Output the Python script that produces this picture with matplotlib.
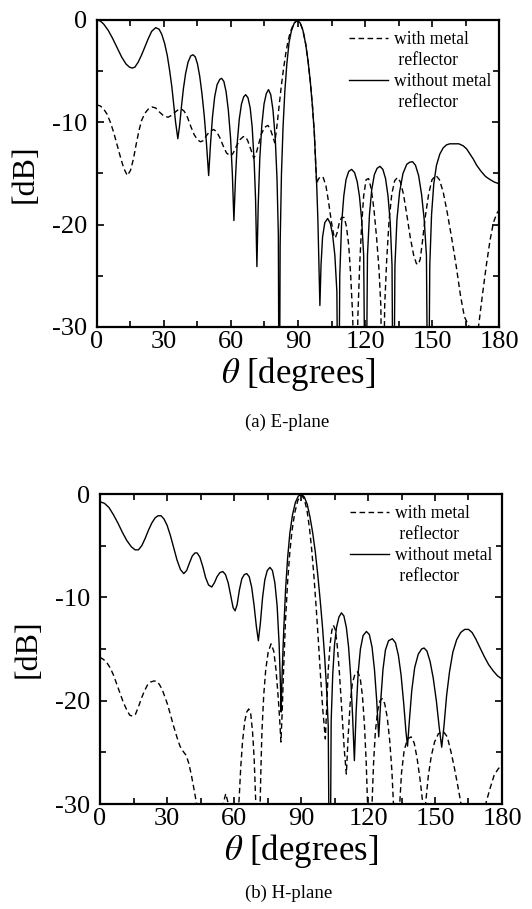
import matplotlib
matplotlib.use('Agg')
import matplotlib.pyplot as plt
from matplotlib.lines import Line2D

plt.rcParams['font.family'] = ['Liberation Serif', 'DejaVu Serif']
plt.rcParams['mathtext.fontset'] = 'stix'
plt.rcParams['axes.unicode_minus'] = False

# values; nulls that drop below the -30 dB floor are given as -45

# (a) E-plane, without metal reflector (solid)
e_theta_wo = [0, 1.5, 3, 5, 7, 9, 11, 13, 14.5, 15.8, 17, 18.5, 20, 21.5, 23, 24.5, 26.3, 27.8, 29, 30.3, 31.5,
              32.5, 33.5, 34.4, 35.2, 36.2, 37, 37.8, 38.7, 39.7, 40.8, 42, 43, 44, 45, 46, 47, 48, 49, 50,
              50.8, 51.7, 52.7, 53.8, 55, 55.8, 56.8, 57.8, 58.8, 59.8, 60.6, 61.3, 62, 62.8, 63.7, 64.7, 65.7,
              66.6, 67.6, 68.6, 69.5, 70.4, 71, 71.6, 72.2, 72.9, 73.8, 74.8, 75.8, 76.8, 77.8, 78.8, 79.8,
              80.6, 81.2, 81.6, 82.0, 82.6, 83.3, 84.1, 85, 86, 87, 88.3, 89.7, 91, 92.2, 93.4, 94.5, 95.5,
              96.5, 97.3, 98, 98.4, 98.9, 99.4, 99.8, 100.3, 101, 102, 103.3, 104.5, 105.5, 106.5, 107.4, 108.1,
              108.7, 109.5, 110.5, 111.5, 112.7, 114, 115.3, 116.5, 117.5, 118.5, 119.4, 120.3, 121.1, 122, 123,
              124.2, 125.4, 126.7, 128, 129.2, 130.3, 131.3, 132.1, 132.7, 133.4, 134.3, 135.5, 137, 138.7, 140,
              141.3, 142.6, 144, 145.3, 146.5, 147.5, 148.3, 149, 149.8, 150.8, 152, 153.5, 155, 156.5, 158, 160,
              162, 164, 165.5, 167, 168.5, 170, 172, 174, 176, 178, 180]
e_db_wo = [0, -0.1, -0.4, -1.0, -1.8, -2.7, -3.6, -4.3, -4.6, -4.7, -4.6, -4.1, -3.4, -2.6, -1.8, -1.1, -0.75,
           -0.9, -1.4, -2.3, -3.5, -4.9, -6.5, -8.3, -10.0, -11.6, -10.3, -8.5, -6.7, -5.2, -4.1, -3.5, -3.4,
           -3.6, -4.3, -5.5, -7.2, -9.3, -12, -15.2, -12.2, -9.5, -7.5, -6.3, -5.8, -5.7, -6.0, -7.0, -8.8,
           -11.5, -15, -19.6, -15.5, -12, -9.7, -8.2, -7.5, -7.3, -7.6, -8.6, -10.5, -14, -17.5, -24.1, -18,
           -13.5, -10.3, -8.2, -7.2, -6.8, -7.3, -8.8, -11.5, -15.5, -21, -45, -22, -15, -10.5, -7, -4.3, -2.2,
           -1.1, -0.3, 0, -0.3, -1.0, -2.3, -4.0, -6.0, -8.5, -11, -14.5, -16.3, -19.5, -24, -27.9, -24, -21.2,
           -19.8, -19.4, -19.9, -21, -23, -26.5, -45, -25, -20, -17.2, -15.6, -14.8, -14.6, -14.9, -15.8, -17.2,
           -19.5, -23, -45, -23, -19, -16.6, -15.1, -14.5, -14.3, -14.6, -15.5, -17.2, -19.8, -24, -45, -24,
           -19.5, -16.8, -15, -14.1, -13.9, -13.85, -14.2, -15.2, -17.0, -19.5, -23, -45, -24, -19, -16, -14.2,
           -13.1, -12.5, -12.2, -12.1, -12.1, -12.1, -12.3, -12.6, -13.1, -13.6, -14.2, -14.8, -15.3, -15.6,
           -15.85, -16.0]

# (a) E-plane, with metal reflector (dashed)
e_theta_w = [0, 1.5, 3, 4.5, 6, 7.5, 9, 10.5, 12, 13.6, 15, 16.3, 17.5, 18.8, 20, 21.5, 23, 24.7, 26.3, 28, 30,
             31.9, 33.5, 35, 36.5, 37.8, 39, 40.5, 42, 43.5, 45, 46.3, 47.5, 49, 50.5, 52.2, 53.5, 55, 56.5, 58,
             59.8, 61, 62.5, 64, 65.5, 66.5, 67.5, 68.8, 70.2, 71.2, 72.3, 73.5, 75, 76.5, 77.5, 78.6, 79.6,
             80.5, 81.5, 82.5, 83.5, 84.5, 85.5, 86.5, 88, 89.7, 91, 92.2, 93.4, 94.5, 95.5, 96.5, 97.3, 98,
             98.4, 99, 100, 101.3, 102.5, 103.7, 105, 106, 106.7, 107.5, 108.5, 109.5, 110.7, 111.7, 112.7,
             113.6, 114.5, 115.7, 116.8, 117.6, 118.5, 119.4, 120.5, 121.6, 122.8, 124, 125.2, 126.3, 127.1,
             127.9, 128.8, 129.7, 130.8, 132, 133.3, 134.5, 135.8, 137.2, 138.7, 140.3, 141.8, 143, 143.8,
             144.7, 145.8, 147, 148.5, 150, 151.8, 153.3, 155, 156.8, 158.8, 160.8, 162.8, 164.5, 166.7, 168.8,
             170.8, 172.5, 174.3, 176, 177.5, 179, 180]
e_db_w = [-8.3, -8.4, -8.7, -9.2, -10.0, -11.0, -12.2, -13.4, -14.5, -15.2, -14.7, -13.6, -12.2, -10.8, -9.8,
          -9.1, -8.7, -8.5, -8.6, -9.0, -9.4, -9.5, -9.3, -9.0, -8.75, -8.7, -8.9, -9.5, -10.4, -11.2, -11.7,
          -11.9, -11.8, -11.3, -10.9, -10.7, -10.9, -11.5, -12.3, -13.0, -13.3, -13.0, -12.3, -11.7, -11.4,
          -11.4, -11.8, -12.6, -13.5, -13.1, -12.2, -11.2, -10.5, -10.3, -10.6, -11.3, -12.0, -10.5, -8.5,
          -6.5, -4.8, -3.3, -2.1, -1.2, -0.4, 0, -0.3, -1.0, -2.3, -4.0, -6.0, -8.5, -11, -14.5, -16.0, -15.6,
          -15.3, -15.4, -16.2, -17.8, -19.8, -21, -21.3, -20.8, -19.8, -19.3, -19.3, -20.2, -22, -25, -29, -45,
          -29, -24, -20, -17.2, -15.6, -15.5, -16.5, -18.5, -21.3, -24.5, -28, -45, -28, -23.5, -19.5, -17,
          -15.7, -15.4, -15.8, -17, -19, -21.3, -23, -23.8, -23.9, -23.4, -21.5, -19.2, -17, -15.6, -15.2,
          -15.6, -16.8, -18.8, -21.3, -24, -27, -29, -30, -45, -30, -27, -24, -21.5, -19.8, -18.9, -18.6]

# (b) H-plane, without metal reflector (solid)
h_theta_wo = [0, 2, 4, 6, 8, 10, 12, 14, 15.7, 17.2, 18.7, 20.2, 21.7, 23.2, 24.7, 26, 27.3, 28.6, 30, 31.5, 33,
              34.5, 36, 37.5, 38.8, 40, 41.3, 42.5, 43.5, 44.7, 46, 47.3, 48.6, 50, 51.2, 52.4, 53.7, 55, 56.2,
              57.4, 58.6, 59.6, 60.5, 61.4, 62.4, 63.5, 64.6, 65.7, 66.8, 67.9, 69, 70, 70.9, 71.8, 72.8, 73.8,
              74.9, 76.1, 77.2, 78.3, 79.3, 80.2, 80.8, 81.1, 81.6, 82.3, 83.1, 84, 85, 86.2, 87.5, 88.8, 90.2,
              91.5, 92.8, 94, 95.2, 96.4, 97.5, 98.6, 99.6, 100.6, 101.5, 102.2, 102.9, 103.5, 104.2, 105, 105.9,
              107, 108.1, 109.2, 110.3, 111.3, 112.2, 113.1, 113.9, 114.7, 115.6, 116.6, 117.8, 119.3, 120.6,
              121.8, 122.9, 123.9, 124.8, 125.7, 126.7, 127.8, 129.2, 130.9, 132.3, 133.6, 134.8, 136, 137,
              137.7, 138.5, 139.6, 140.9, 142.5, 144, 145.1, 146.4, 147.8, 149.2, 150.6, 151.9, 153, 154, 155.2,
              156.5, 158, 159.7, 161.5, 163.3, 165, 166.6, 168.2, 170, 172, 174, 176, 178, 180]
h_db_wo = [-0.75, -0.9, -1.3, -2.0, -2.8, -3.7, -4.5, -5.1, -5.4, -5.4, -5.0, -4.3, -3.5, -2.8, -2.3, -2.1,
           -2.1, -2.4, -3.0, -4.0, -5.2, -6.4, -7.3, -7.7, -7.4, -6.7, -6.0, -5.7, -5.7, -6.1, -7.0, -8.1, -8.8,
           -9.0, -8.6, -8.0, -7.6, -7.5, -7.8, -8.6, -9.9, -11.0, -11.3, -10.7, -9.3, -8.2, -7.8, -7.7, -8.0,
           -9.0, -10.8, -12.8, -14.2, -12.5, -10.0, -8.3, -7.4, -7.1, -7.4, -8.6, -10.8, -14.5, -18.5, -21.1,
           -17, -13, -9.2, -6.2, -3.8, -2.0, -0.8, -0.2, 0, -0.3, -1.0, -2.2, -3.7, -5.6, -7.8, -10.3, -12.8,
           -15.8, -19, -22.5, -45, -22, -17.5, -14.6, -12.9, -11.9, -11.5, -11.8, -12.9, -14.8, -17.5, -21.5,
           -25.8, -21, -17.3, -15, -13.7, -13.3, -13.6, -14.8, -17, -20, -23.5, -20, -17, -15.1, -14.2, -14.0,
           -14.4, -15.6, -17.5, -20.3, -23, -24.4, -22, -19, -16.8, -15.5, -15.0, -14.9, -15.2, -16.2, -17.8,
           -20, -22.6, -24.5, -22.5, -19.5, -17.2, -15.3, -14.1, -13.4, -13.1, -13.1, -13.4, -14, -14.8, -15.7,
           -16.5, -17.1, -17.6, -17.9]

# (b) H-plane, with metal reflector (dashed)
h_theta_w = [0, 1.5, 3, 4.5, 6, 7.5, 9, 10.5, 12, 13.3, 14.6, 15.9, 17.2, 18.5, 19.8, 21.2, 22.6, 24, 25.2, 26.5,
             27.8, 29, 30.3, 31.6, 33, 34.4, 35.8, 37.2, 38.6, 39.8, 41, 42.2, 43.5, 44.5, 48, 52, 55.0, 56.3,
             57.6, 59.5, 61.5, 62.3, 63, 63.8, 64.8, 65.7, 66.6, 67.5, 68.3, 69, 69.6, 70.2, 70.8, 71.4, 72,
             72.5, 73.3, 74.2, 75.3, 76.6, 77.8, 78.8, 79.8, 80.5, 81.0, 81.5, 82.2, 83, 84, 85, 86, 87.2, 88.6,
             90.2, 91.5, 92.7, 93.8, 94.8, 95.8, 96.8, 97.8, 98.8, 99.8, 100.9, 101.5, 102.2, 103, 103.8, 104.5,
             105.3, 106.2, 107.2, 108.3, 109.4, 110.3, 111.1, 112, 113, 114.2, 115.4, 116.5, 117.5, 118.4, 119.2,
             119.8, 120.8, 121.8, 122.5, 123.3, 124.3, 125.4, 126.4, 127.5, 128.6, 129.7, 130.7, 131.4, 132.8,
             134.2, 135, 136.2, 137.7, 139.3, 140.7, 142, 143.3, 144.3, 145.2, 146, 147, 148.3, 149.8, 151.5,
             153.8, 155.5, 157, 158.5, 160, 161.5, 163, 167, 171, 172.7, 174.5, 176.5, 178.3, 180]
h_db_w = [-15.8, -16.0, -16.3, -16.8, -17.5, -18.4, -19.3, -20.2, -20.9, -21.4, -21.5, -21.3, -20.6, -19.8,
          -19.1, -18.5, -18.2, -18.1, -18.1, -18.4, -18.9, -19.6, -20.4, -21.4, -22.5, -23.5, -24.4, -24.9,
          -25.3, -26.1, -27.3, -28.7, -30.3, -32, -37, -34, -30.1, -29.0, -30.1, -33, -31.5, -29.5, -26.5,
          -24, -22, -21.1, -20.8, -21.3, -23, -25.5, -29, -33, -45, -33, -27, -23, -19.5, -17, -15.3, -14.5,
          -15.2, -17, -19.7, -22, -24.0, -21.5, -17, -12.5, -8.5, -5.6, -3.5, -1.8, -0.6, -0.1, -0.5, -1.6,
          -3.3, -5.4, -8, -11, -14.3, -17.8, -21, -23.7, -20.5, -17, -14.6, -13.2, -12.7, -13.1, -14.6, -17.3,
          -21, -24.8, -27.1, -23.5, -20.3, -18.3, -17.4, -17.2, -17.8, -19.5, -22.3, -26, -30, -45, -30, -26,
          -23, -21, -20, -19.8, -20.3, -21.6, -23.8, -26.8, -30, -45, -30, -27, -24.8, -23.7, -23.5, -24.1,
          -25.6, -27.6, -29.5, -31, -29.5, -27.3, -25.4, -24, -23.2, -23.0, -23.5, -24.8, -26.3, -28, -29.8,
          -32, -36, -32, -30, -28.6, -27.2, -26.6, -26.2]

labels = ['with metal', ' reflector', 'without metal', ' reflector']


def drawPanel(ax, th_w, db_w, th_wo, db_wo, legend_x):
    l1, = ax.plot(th_w, db_w, color='black', lw=1.0, ls=(0, (4, 2.5)))
    l2, = ax.plot(th_wo, db_wo, color='black', lw=1.0)
    ax.set_xlim(0, 180)
    ax.set_ylim(-30, 0)
    ax.set_xticks(range(0, 181, 30))
    ax.set_xticks(range(15, 180, 30), minor=True)
    ax.set_yticks([0, -10, -20, -30])
    ax.set_yticks([-5, -15, -25], minor=True)
    ax.tick_params(which='both', direction='in', top=True, right=True, width=1.2, labelsize=19)
    ax.tick_params(axis='x', which='both', pad=3)
    ax.tick_params(axis='y', which='both', pad=7)
    ax.tick_params(which='major', length=5)
    ax.tick_params(which='minor', length=4)
    for sp in ax.spines.values():
        sp.set_linewidth(1.6)
    ax.set_xlabel(r'$\theta$ [degrees]', fontsize=25, labelpad=1)
    ax.set_ylabel('[dB]', fontsize=23, labelpad=9)
    blank = Line2D([], [], color='none')
    ax.legend([l1, blank, l2, blank], labels, loc='upper left', bbox_to_anchor=(legend_x, 1.0),
              frameon=False, fontsize=12.7, handlelength=2.2, handletextpad=0.35,
              labelspacing=0.22, borderpad=0.62, borderaxespad=0)


fig = plt.figure(figsize=(5.32, 9.09), dpi=100)
ax1 = fig.add_axes([0.1823, 0.6403, 0.7557, 0.3377])
ax2 = fig.add_axes([0.188, 0.1155, 0.7556, 0.341])

drawPanel(ax1, e_theta_w, e_db_w, e_theta_wo, e_db_wo, 0.60)
drawPanel(ax2, h_theta_w, h_db_w, h_theta_wo, h_db_wo, 0.595)

fig.text(0.539, 1 - 422 / 909, '(a) E-plane', ha='center', va='center', fontsize=13.5)
fig.text(0.543, 1 - 893 / 909, '(b) H-plane', ha='center', va='center', fontsize=13.5)

fig.savefig('out.png', dpi=100)
